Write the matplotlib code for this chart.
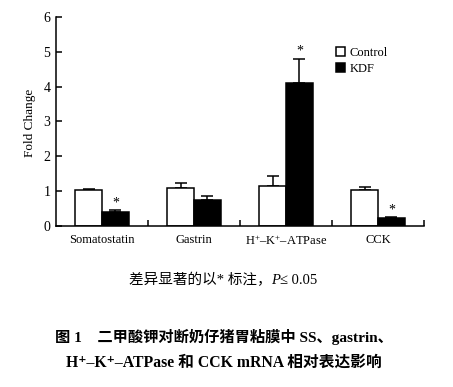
import matplotlib
matplotlib.use("Agg")
import matplotlib.pyplot as plt
import numpy as np

categories = ["Somatostatin", "Gastrin", "H$^{+}$–K$^{+}$–ATPase", "CCK"]
control = [1.02, 1.08, 1.15, 1.02]
control_err = [0.04, 0.15, 0.27, 0.09]
kdf = [0.40, 0.73, 4.10, 0.21]
kdf_err = [0.04, 0.13, 0.70, 0.04]
sig = [True, False, True, True]
yticks = [0, 1, 2, 3, 4, 5, 6]

serif = ["Liberation Serif", "DejaVu Serif"]
mixed = ["Liberation Serif", "Noto Sans CJK SC", "DejaVu Sans"]
plt.rcParams["mathtext.fontset"] = "custom"
plt.rcParams["mathtext.rm"] = "Liberation Serif"
plt.rcParams["mathtext.it"] = "Liberation Serif:italic"
plt.rcParams["mathtext.bf"] = "Liberation Serif:bold"

fig = plt.figure(figsize=(4.53, 3.87), dpi=100)
ax = fig.add_axes([56/453, 1-225.7/387, (424-56)/453, (225.7-17)/387])

x = np.arange(len(categories)) + 0.5
w = 0.29
lw = 1.1
ax.bar(x - w/2, control, w, color="white", edgecolor="black", linewidth=lw, label="Control", zorder=2)
ax.bar(x + w/2, kdf, w, color="black", edgecolor="black", linewidth=lw, label="KDF", zorder=2)
ax.errorbar(x - w/2, control, yerr=[np.zeros(4), control_err], fmt="none", ecolor="black",
            elinewidth=lw, capsize=4, capthick=lw, zorder=1)
ax.errorbar(x + w/2, kdf, yerr=[np.zeros(4), kdf_err], fmt="none", ecolor="black",
            elinewidth=lw, capsize=4, capthick=lw, zorder=1)
for xi, v, e, s in zip(x, kdf, kdf_err, sig):
    if s:
        ax.text(xi + w/2, v + e + 0.02, "*", ha="center", va="bottom", fontsize=10, family=serif)

ax.set_xlim(0, 4)
ax.set_ylim(0, 6)
ax.set_yticks(yticks)
ax.set_xticks(x)
ax.set_xticklabels(categories, family=serif, fontsize=9)
ax.set_xticks([1, 2, 3, 4], minor=True)
ax.tick_params(axis="x", which="major", length=0, pad=6)
ax.tick_params(axis="x", which="minor", direction="in", length=4.5, width=lw)
ax.tick_params(axis="y", direction="in", length=4.5, width=lw, labelsize=10, pad=4)
for lab in ax.get_yticklabels():
    lab.set_family(serif)
for sp in ["top", "right"]:
    ax.spines[sp].set_visible(False)
for sp in ["left", "bottom"]:
    ax.spines[sp].set_linewidth(lw)
ax.set_ylabel("Fold Change", family=serif, fontsize=9.5)
ax.yaxis.set_label_coords(36/453, 1-123/387, transform=fig.transFigure)

leg = fig.legend(*ax.get_legend_handles_labels(), loc="upper left",
                 bbox_to_anchor=(336/453, 1-47/387), frameon=False,
                 prop={"family": serif, "size": 9}, handlelength=0.7, handleheight=0.7,
                 handletextpad=0.4, labelspacing=0.3, borderaxespad=0, borderpad=0)

# note line: pieces so that P can be italic without mathtext
fig.canvas.draw()
r = fig.canvas.get_renderer()
pieces = [("差异显著的以* 标注，", "normal"), ("P", "italic"), ("≤ 0.05", "normal")]
texts = []
for s, st in pieces:
    texts.append(fig.text(0, 1-280/387, s, ha="left", va="center", fontsize=10.5,
                          family=mixed, style=st))
widths = [t.get_window_extent(r).width for t in texts]
total = sum(widths)
x0 = 223 - total/2
for t, wd in zip(texts, widths):
    t.set_x(x0/453)
    x0 += wd

fig.text(224/453, 1-337/387, "图 1    二甲酸钾对断奶仔猪胃粘膜中 SS、gastrin、", ha="center", va="center",
         fontsize=11, family=mixed, fontweight="bold")
fig.text(224/453, 1-363/387, "H⁺–K⁺–ATPase 和 CCK mRNA 相对表达影响", ha="center", va="center",
         fontsize=11.3, family=mixed, fontweight="bold")

fig.savefig("out.png", dpi=100)
